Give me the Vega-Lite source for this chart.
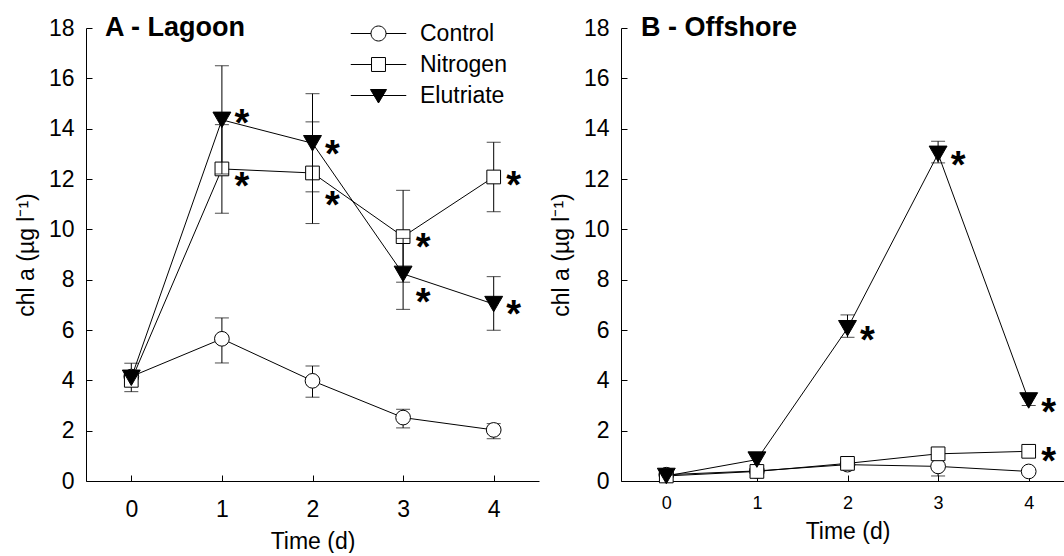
{
  "$schema": "https://vega.github.io/schema/vega-lite/v6.json",
  "padding": {"left": 15, "top": 14, "right": 0, "bottom": 0},
  "bounds": "flush",
  "spacing": 82,
  "datasets": {
    "lagoon": [
      {"t": 0, "series": "Control", "mean": 4.15, "lo": 3.55, "hi": 4.68, "star": null},
      {"t": 1, "series": "Control", "mean": 5.65, "lo": 4.69, "hi": 6.48, "star": null},
      {"t": 2, "series": "Control", "mean": 3.98, "lo": 3.33, "hi": 4.57, "star": null},
      {"t": 3, "series": "Control", "mean": 2.52, "lo": 2.11, "hi": 2.85, "star": null},
      {"t": 4, "series": "Control", "mean": 2.03, "lo": 1.68, "hi": 2.28, "star": null},
      {"t": 0, "series": "Nitrogen", "mean": 4.0, "lo": null, "hi": null, "star": null},
      {"t": 1, "series": "Nitrogen", "mean": 12.4, "lo": 10.64, "hi": 14.16, "star": 12.02},
      {"t": 2, "series": "Nitrogen", "mean": 12.24, "lo": 10.23, "hi": 14.27, "star": 11.3},
      {"t": 3, "series": "Nitrogen", "mean": 9.71, "lo": 7.9, "hi": 11.55, "star": 9.6},
      {"t": 4, "series": "Nitrogen", "mean": 12.08, "lo": 10.7, "hi": 13.46, "star": 12.08},
      {"t": 0, "series": "Elutriate", "mean": 4.1, "lo": null, "hi": null, "star": null},
      {"t": 1, "series": "Elutriate", "mean": 14.35, "lo": 12.2, "hi": 16.5, "star": 14.54},
      {"t": 2, "series": "Elutriate", "mean": 13.42, "lo": 11.49, "hi": 15.39, "star": 13.3},
      {"t": 3, "series": "Elutriate", "mean": 8.23, "lo": 6.82, "hi": 9.64, "star": 7.43},
      {"t": 4, "series": "Elutriate", "mean": 7.03, "lo": 5.99, "hi": 8.12, "star": 6.94}
    ],
    "offshore": [
      {"t": 0, "series": "Control", "mean": 0.25, "lo": null, "hi": null, "star": null},
      {"t": 1, "series": "Control", "mean": 0.4, "lo": null, "hi": null, "star": null},
      {"t": 2, "series": "Control", "mean": 0.65, "lo": null, "hi": null, "star": null},
      {"t": 3, "series": "Control", "mean": 0.58, "lo": 0.2, "hi": 0.9, "star": null},
      {"t": 4, "series": "Control", "mean": 0.38, "lo": null, "hi": null, "star": null},
      {"t": 0, "series": "Nitrogen", "mean": 0.2, "lo": null, "hi": null, "star": null},
      {"t": 1, "series": "Nitrogen", "mean": 0.38, "lo": null, "hi": null, "star": null},
      {"t": 2, "series": "Nitrogen", "mean": 0.7, "lo": null, "hi": null, "star": null},
      {"t": 3, "series": "Nitrogen", "mean": 1.08, "lo": null, "hi": null, "star": null},
      {"t": 4, "series": "Nitrogen", "mean": 1.18, "lo": null, "hi": null, "star": 1.11},
      {"t": 0, "series": "Elutriate", "mean": 0.2, "lo": null, "hi": null, "star": null},
      {"t": 1, "series": "Elutriate", "mean": 0.85, "lo": null, "hi": null, "star": null},
      {"t": 2, "series": "Elutriate", "mean": 6.07, "lo": 5.71, "hi": 6.6, "star": 5.94},
      {"t": 3, "series": "Elutriate", "mean": 13.0, "lo": 12.64, "hi": 13.5, "star": 12.86},
      {"t": 4, "series": "Elutriate", "mean": 3.2, "lo": 3.0, "hi": 3.45, "star": 3.07}
    ]
  },
  "resolve": {"scale": {"fill": "independent", "shape": "independent"}, "legend": {"fill": "independent", "shape": "independent"}},
  "hconcat": [
    {
      "width": 453,
      "height": 453,
      "data": {"name": "lagoon"},
      "encoding": {
        "x": {"field": "t", "type": "quantitative", "scale": {"domain": [-0.5, 4.5], "nice": false, "zero": false},
              "axis": {"values": [0, 1, 2, 3, 4], "title": "Time (d)", "labelPadding": 23, "titlePadding": 9, "labelFontSize": 23}},
        "y": {"field": "mean", "type": "quantitative", "title": "chl a (µg l⁻¹)", "scale": {"domain": [0, 18], "nice": false},
              "axis": {"values": [0, 2, 4, 6, 8, 10, 12, 14, 16, 18], "labelPadding": 18, "titlePadding": 10, "labelFontSize": 23}}
      },
      "layer": [
        {"transform": [{"filter": "datum.series === 'Control' && datum.lo != null"}],
         "mark": {"type": "errorbar", "color": "black", "thickness": 1, "ticks": {"size": 14, "color": "black"}},
         "encoding": {"y": {"field": "lo", "type": "quantitative", "title": "chl a (µg l⁻¹)"}, "y2": {"field": "hi"}}},
        {"transform": [{"filter": "datum.series === 'Control'"}],
         "mark": {"type": "line", "color": "black", "strokeWidth": 1}},
        {"transform": [{"filter": "datum.series === 'Control'"}],
         "mark": {"type": "point", "shape": "circle", "size": 216, "filled": true, "opacity": 1, "stroke": "black", "strokeWidth": 1},
         "encoding": {"fill": {"field": "series", "type": "nominal", "scale": {"domain": ["Control", "Nitrogen", "Elutriate"], "range": ["white", "white", "black"]},
           "legend": {"orient": "none", "legendX": 281, "legendY": -6, "title": null, "labelFontSize": 23, "labelColor": "black", "labelOffset": 30, "rowPadding": 7, "symbolSize": 225, "symbolStrokeColor": "black", "symbolStrokeWidth": 1}}}},
        {"transform": [{"filter": "datum.series === 'Nitrogen' && datum.lo != null"}],
         "mark": {"type": "errorbar", "color": "black", "thickness": 1, "ticks": {"size": 14, "color": "black"}},
         "encoding": {"y": {"field": "lo", "type": "quantitative", "title": "chl a (µg l⁻¹)"}, "y2": {"field": "hi"}}},
        {"transform": [{"filter": "datum.series === 'Nitrogen'"}],
         "mark": {"type": "line", "color": "black", "strokeWidth": 1}},
        {"transform": [{"filter": "datum.series === 'Nitrogen'"}],
         "mark": {"type": "point", "shape": "square", "size": 188, "filled": true, "opacity": 1, "stroke": "black", "strokeWidth": 1},
         "encoding": {"fill": {"field": "series", "type": "nominal"}}},
        {"transform": [{"filter": "datum.series === 'Elutriate' && datum.lo != null"}],
         "mark": {"type": "errorbar", "color": "black", "thickness": 1, "ticks": {"size": 14, "color": "black"}},
         "encoding": {"y": {"field": "lo", "type": "quantitative", "title": "chl a (µg l⁻¹)"}, "y2": {"field": "hi"}}},
        {"transform": [{"filter": "datum.series === 'Elutriate'"}],
         "mark": {"type": "line", "color": "black", "strokeWidth": 1}},
        {"transform": [{"filter": "datum.series === 'Elutriate'"}],
         "mark": {"type": "point", "shape": "triangle-down", "size": 320, "filled": true, "opacity": 1, "stroke": "black", "strokeWidth": 1},
         "encoding": {"fill": {"field": "series", "type": "nominal"}}},
        {"transform": [{"filter": "false"}],
         "mark": {"type": "point", "size": 225, "filled": true, "opacity": 1, "stroke": "black", "strokeWidth": 1},
         "encoding": {
           "fill": {"field": "series", "type": "nominal"},
           "shape": {"field": "series", "type": "nominal", "scale": {"domain": ["Control", "Nitrogen", "Elutriate"],
             "range": ["M-3.7,0L-1,0M1,0L3.7,0M1,0A1,1,0,1,1,-1,0A1,1,0,1,1,1,0Z", "M-3.7,0L-0.93,0M0.93,0L3.7,0M-0.93,-0.93L0.93,-0.93L0.93,0.93L-0.93,0.93Z", "M-3.7,0L3.7,0M-1.07,-0.8L1.07,-0.8L0,1Z"]},
             "legend": {"orient": "none", "legendX": 281, "legendY": -6, "title": null, "labelFontSize": 23, "labelColor": "black", "labelOffset": 30, "rowPadding": 7, "symbolSize": 225, "symbolStrokeColor": "black", "symbolStrokeWidth": 1}}}},
        {"transform": [{"filter": "datum.star != null"}],
         "mark": {"type": "text", "text": "*", "fontSize": 38, "fontWeight": "bold", "color": "black", "dx": 20, "dy": 21, "baseline": "alphabetic", "align": "center"},
         "encoding": {"y": {"field": "star", "type": "quantitative", "title": "chl a (µg l⁻¹)"}}},
        {"transform": [{"filter": "datum.t === 0 && datum.series === 'Control'"}],
         "mark": {"type": "text", "text": "A - Lagoon", "fontSize": 27, "fontWeight": "bold", "color": "black", "align": "left", "baseline": "middle", "dx": 19},
         "encoding": {"x": {"datum": -0.5, "type": "quantitative"}, "y": {"datum": 18, "type": "quantitative", "title": "chl a (µg l⁻¹)"}}}
      ]
    },
    {
      "width": 453,
      "height": 453,
      "data": {"name": "offshore"},
      "encoding": {
        "x": {"field": "t", "type": "quantitative", "scale": {"domain": [-0.5, 4.5], "nice": false, "zero": false},
              "axis": {"values": [0, 1, 2, 3, 4], "title": "Time (d)", "labelPadding": 19, "titlePadding": 8, "labelFontSize": 18}},
        "y": {"field": "mean", "type": "quantitative", "title": "chl a (µg l⁻¹)", "scale": {"domain": [0, 18], "nice": false},
              "axis": {"values": [0, 2, 4, 6, 8, 10, 12, 14, 16, 18], "labelPadding": 18, "titlePadding": 10, "labelFontSize": 23}}
      },
      "layer": [
        {"transform": [{"filter": "datum.series === 'Control' && datum.lo != null"}],
         "mark": {"type": "errorbar", "color": "black", "thickness": 1, "ticks": {"size": 14, "color": "black"}},
         "encoding": {"y": {"field": "lo", "type": "quantitative", "title": "chl a (µg l⁻¹)"}, "y2": {"field": "hi"}}},
        {"transform": [{"filter": "datum.series === 'Control'"}],
         "mark": {"type": "line", "color": "black", "strokeWidth": 1}},
        {"transform": [{"filter": "datum.series === 'Control'"}],
         "mark": {"type": "point", "shape": "circle", "size": 216, "filled": true, "opacity": 1, "stroke": "black", "strokeWidth": 1},
         "encoding": {"fill": {"field": "series", "type": "nominal", "scale": {"domain": ["Control", "Nitrogen", "Elutriate"], "range": ["white", "white", "black"]}, "legend": null}}},
        {"transform": [{"filter": "datum.series === 'Nitrogen'"}],
         "mark": {"type": "line", "color": "black", "strokeWidth": 1}},
        {"transform": [{"filter": "datum.series === 'Nitrogen'"}],
         "mark": {"type": "point", "shape": "square", "size": 188, "filled": true, "opacity": 1, "stroke": "black", "strokeWidth": 1},
         "encoding": {"fill": {"field": "series", "type": "nominal", "legend": null}}},
        {"transform": [{"filter": "datum.series === 'Elutriate' && datum.lo != null"}],
         "mark": {"type": "errorbar", "color": "black", "thickness": 1, "ticks": {"size": 14, "color": "black"}},
         "encoding": {"y": {"field": "lo", "type": "quantitative", "title": "chl a (µg l⁻¹)"}, "y2": {"field": "hi"}}},
        {"transform": [{"filter": "datum.series === 'Elutriate'"}],
         "mark": {"type": "line", "color": "black", "strokeWidth": 1}},
        {"transform": [{"filter": "datum.series === 'Elutriate'"}],
         "mark": {"type": "point", "shape": "triangle-down", "size": 320, "filled": true, "opacity": 1, "stroke": "black", "strokeWidth": 1},
         "encoding": {"fill": {"field": "series", "type": "nominal", "legend": null}}},
        {"transform": [{"filter": "datum.star != null"}],
         "mark": {"type": "text", "text": "*", "fontSize": 38, "fontWeight": "bold", "color": "black", "dx": 20, "dy": 21, "baseline": "alphabetic", "align": "center"},
         "encoding": {"y": {"field": "star", "type": "quantitative", "title": "chl a (µg l⁻¹)"}}},
        {"transform": [{"filter": "datum.t === 0 && datum.series === 'Control'"}],
         "mark": {"type": "text", "text": "B - Offshore", "fontSize": 27, "fontWeight": "bold", "color": "black", "align": "left", "baseline": "middle", "dx": 20},
         "encoding": {"x": {"datum": -0.5, "type": "quantitative"}, "y": {"datum": 18, "type": "quantitative", "title": "chl a (µg l⁻¹)"}}}
      ]
    }
  ],
  "config": {
    "font": "Liberation Sans",
    "view": {"stroke": null},
    "axis": {"grid": false, "domainColor": "black", "domainWidth": 1, "tickColor": "black", "tickWidth": 1, "tickSize": -6,
             "labelColor": "black", "titleColor": "black", "titleFontSize": 23, "titleFontWeight": "normal", "labelFont": "Liberation Sans", "titleFont": "Liberation Sans"}
  }
}
